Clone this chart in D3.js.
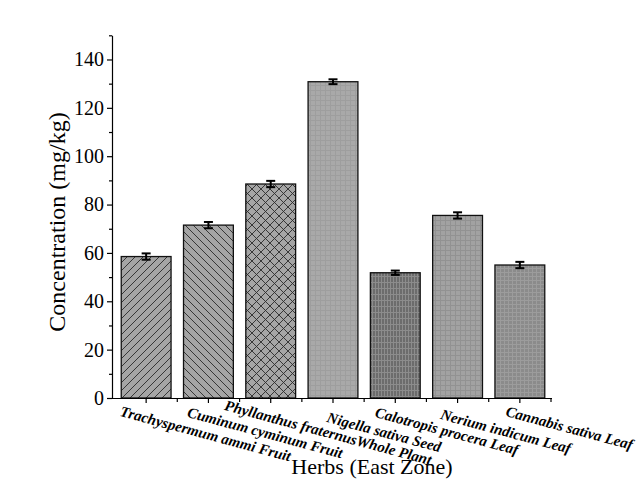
<!DOCTYPE html>
<html><head><meta charset="utf-8">
<script src="https://cdn.jsdelivr.net/npm/d3@7"></script>
<style>body{margin:0;background:#fff}svg{display:block}</style>
</head><body><svg id="c" width="640" height="480" font-family="'Liberation Serif', 'Times New Roman', serif"></svg>
<script>
const categories = ["Trachyspermum ammi Fruit","Cuminum cyminum Fruit","Phyllanthus fraternusWhole Plant","Nigella sativa Seed","Calotropis procera Leaf","Nerium indicum Leaf","Cannabis sativa Leaf"];
const values = [58.5, 71.5, 88.5, 130.8, 51.8, 75.5, 55.0];
const errors = [1.3, 1.3, 1.3, 1.0, 0.9, 1.3, 1.3];
const yTicks = [0,20,40,60,80,100,120,140];
const yLabel = "Concentration (mg/kg)";
const xLabel = "Herbs (East Zone)";
// layout only: label anchor offsets from each tick
const labelDx = [-24,-19,-44,-4,-18,-15,-12];
const labelDy = [1,2,-5,7,2,4,1];
const FONT = "'Liberation Serif', 'Times New Roman', serif";

const svg = d3.select("#c");
const x = d3.scaleBand().domain(categories).range([115, 551]).paddingInner(0.2).paddingOuter(0.1);
const y = d3.scaleLinear().domain([0,150]).range([398, 35.3]);

// patterns
const defs = svg.append("defs");
function hatch(id, bg, draw, size){
  const p = defs.append("pattern").attr("id",id).attr("patternUnits","userSpaceOnUse").attr("width",size).attr("height",size);
  p.append("rect").attr("width",size).attr("height",size).attr("fill",bg);
  draw(p, size);
}
hatch("p0","#a5a5a5",(p,s)=>{p.append("path").attr("d",`M0,${s} L${s},0 M${-s/2},${s/2} L${s/2},${-s/2} M${s/2},${s*1.5} L${s*1.5},${s/2}`).attr("stroke","#2a2a2a").attr("stroke-width",0.9);},8);
hatch("p1","#a5a5a5",(p,s)=>{p.append("path").attr("d",`M0,0 L${s},${s} M${-s/2},${s/2} L${s/2},${s*1.5} M${s/2},${-s/2} L${s*1.5},${s/2}`).attr("stroke","#2a2a2a").attr("stroke-width",0.9);},8);
hatch("p2","#a5a5a5",(p,s)=>{p.append("path").attr("d",`M0,0 L${s},${s} M0,${s} L${s},0`).attr("stroke","#2a2a2a").attr("stroke-width",0.9);},9);
hatch("p3","#a9a9a9",(p,s)=>{p.append("path").attr("d",`M0,0.5 H${s} M0.5,0 V${s}`).attr("stroke","#9e9e9e").attr("stroke-width",1);},5);
hatch("p4","#6c6c6c",(p,s)=>{p.append("path").attr("d",`M0,0.5 H${s} M0.5,0 V${s} M3.5,0 V${s}`).attr("stroke","#8c8c8c").attr("stroke-width",1);},6);
hatch("p5","#a2a2a2",(p,s)=>{p.append("path").attr("d",`M0,0.5 H${s} M0.5,0 V${s}`).attr("stroke","#929292").attr("stroke-width",1);},5);
hatch("p6","#8b8b8b",(p,s)=>{p.append("path").attr("d",`M0,0.5 H${s} M0.5,0 V${s}`).attr("stroke","#9c9c9c").attr("stroke-width",1);},4);

// bars
svg.append("g").selectAll("rect").data(values).join("rect")
  .attr("x",(d,i)=>x(categories[i])).attr("width",x.bandwidth())
  .attr("y",d=>y(d)).attr("height",d=>y(0)-y(d))
  .attr("fill",(d,i)=>`url(#p${i})`).attr("stroke","#111").attr("stroke-width",1.3);

// error bars
const eb = svg.append("g").attr("stroke","#000").attr("stroke-width",2);
values.forEach((v,i)=>{
  const cx = x(categories[i]) + x.bandwidth()/2;
  eb.append("line").attr("x1",cx).attr("x2",cx).attr("y1",y(v+errors[i])).attr("y2",y(v-errors[i]));
  eb.append("line").attr("x1",cx-4.5).attr("x2",cx+4.5).attr("y1",y(v+errors[i])).attr("y2",y(v+errors[i]));
  eb.append("line").attr("x1",cx-4.5).attr("x2",cx+4.5).attr("y1",y(v-errors[i])).attr("y2",y(v-errors[i]));
});

// y axis
const yAxis = svg.append("g").attr("transform","translate(112,0)")
  .call(d3.axisLeft(y).tickValues(yTicks).tickSize(5).tickSizeOuter(0).tickPadding(3));
yAxis.attr("font-family",FONT);
yAxis.selectAll("text").attr("font-family",FONT).attr("font-size",20).attr("fill","#000");
yAxis.select(".domain").attr("stroke","#000").attr("stroke-width",1.2);
yAxis.selectAll(".tick line").attr("stroke","#000").attr("stroke-width",1.2);
const yMinor = svg.append("g").attr("transform","translate(112,0)")
  .call(d3.axisLeft(y).tickValues(d3.range(10,151,20)).tickSize(3).tickFormat(""));
yMinor.select(".domain").remove();
yMinor.selectAll(".tick line").attr("stroke","#000").attr("stroke-width",1.2);

// x axis
const xAxis = svg.append("g").attr("transform","translate(0,398)")
  .call(d3.axisBottom(x).tickSize(5).tickSizeOuter(0).tickFormat(""));
xAxis.select(".domain").attr("d","M112,0.5H552").attr("stroke","#000").attr("stroke-width",1.2);
xAxis.selectAll(".tick line").attr("stroke","#000").attr("stroke-width",1.2);
const step = x.step();
svg.append("g").attr("transform","translate(0,398)").selectAll("line").data(categories)
  .join("line").attr("x1",(d)=>x(d)+x.bandwidth()/2+step/2).attr("x2",(d)=>x(d)+x.bandwidth()/2+step/2)
  .attr("y1",0).attr("y2",4).attr("stroke","#000").attr("stroke-width",1.2);

// category labels
svg.append("g").selectAll("text").data(categories).join("text")
  .attr("transform",(d,i)=>`translate(${x(d)+x.bandwidth()/2+labelDx[i]},${404+labelDy[i]}) rotate(15)`)
  .attr("font-family",FONT).attr("font-size",15).attr("font-weight","bold").attr("font-style","italic")
  .attr("dy","0.75em").text(d=>d);

// titles
svg.append("text").attr("x",372).attr("y",474).attr("text-anchor","middle").attr("font-family",FONT).attr("font-size",22).text(xLabel);
svg.append("text").attr("transform","translate(65,222) rotate(-90)").attr("text-anchor","middle").attr("font-family",FONT).attr("font-size",24).text(yLabel);
</script></body></html>
